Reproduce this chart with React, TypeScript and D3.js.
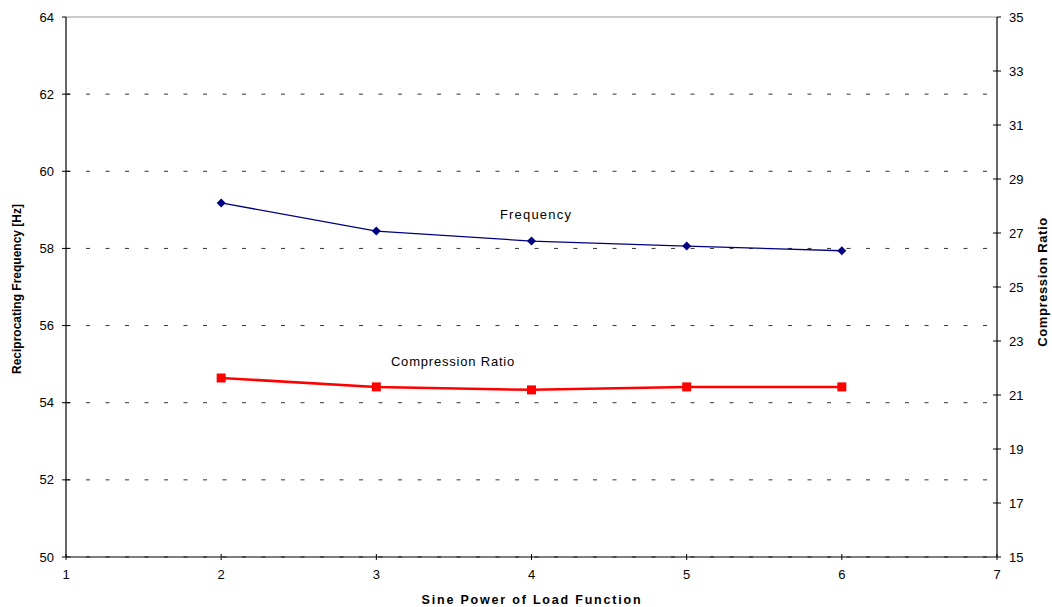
import React from "react";
import * as d3 from "d3";

const xValues = [2, 3, 4, 5, 6];
const frequency = [59.18, 58.45, 58.19, 58.06, 57.94];
const compressionRatio = [21.63, 21.3, 21.19, 21.3, 21.3];
const leftTicks = [50, 52, 54, 56, 58, 60, 62, 64];
const rightTicks = [15, 17, 19, 21, 23, 25, 27, 29, 31, 33, 35];
const xTicks = [1, 2, 3, 4, 5, 6, 7];

const W = 1052, H = 607;
const L = 66, R = 997, T = 17, B = 557;
const font = "'Liberation Sans', Arial, sans-serif";

export default function App() {
  const x = d3.scaleLinear().domain([1, 7]).range([L, R]);
  const yL = d3.scaleLinear().domain([50, 64]).range([B, T]);
  const yR = d3.scaleLinear().domain([15, 35]).range([B, T]);
  const freqLine = d3.line<number>().x((_, i) => x(xValues[i])).y((d) => yL(d))(frequency) || "";
  const crLine = d3.line<number>().x((_, i) => x(xValues[i])).y((d) => yR(d))(compressionRatio) || "";

  return (
    <svg width={W} height={H} style={{ position: "absolute", left: 0, top: 0, background: "#fff" }}>
      {leftTicks.map((t) => (
        <line key={"g" + t} x1={L} x2={R} y1={yL(t)} y2={yL(t)}
          stroke={t === 64 ? "#999" : "#333"} strokeWidth={1}
          strokeDasharray={t === 64 ? undefined : "4,15.5"} strokeDashoffset={-20} />
      ))}
      {/* axes */}
      <line x1={L} x2={L} y1={T} y2={B} stroke="#000" strokeWidth={1.2} />
      <line x1={R} x2={R} y1={T} y2={B} stroke="#000" strokeWidth={1.2} />
      <line x1={L} x2={R} y1={B} y2={B} stroke="#000" strokeWidth={1.2} />
      {leftTicks.map((t) => (
        <g key={"l" + t}>
          <line x1={L - 4} x2={t === 64 || t === 50 ? L : L + 4} y1={yL(t)} y2={yL(t)} stroke="#000" />
          <text x={L - 12} y={yL(t)} dy="0.35em" textAnchor="end" fontFamily={font} fontSize={13} fill="#000">{t}</text>
        </g>
      ))}
      {rightTicks.map((t) => (
        <g key={"r" + t}>
          <line x1={t === 35 || t === 15 ? R : R - 4} x2={R + 4} y1={yR(t)} y2={yR(t)} stroke="#000" />
          <text x={R + 12} y={yR(t)} dy="0.35em" textAnchor="start" fontFamily={font} fontSize={13} fill="#000">{t}</text>
        </g>
      ))}
      {xTicks.map((t) => (
        <g key={"x" + t}>
          <line x1={x(t)} x2={x(t)} y1={B - 3} y2={B + 3} stroke="#000" />
          <text x={x(t)} y={B + 22} textAnchor="middle" fontFamily={font} fontSize={13} fill="#000">{t}</text>
        </g>
      ))}
      {/* series */}
      <path d={freqLine} fill="none" stroke="#000080" strokeWidth={1.3} />
      {frequency.map((v, i) => {
        const cx = x(xValues[i]), cy = yL(v);
        return <path key={"f" + i} d={`M${cx},${cy - 4.5}L${cx + 4.5},${cy}L${cx},${cy + 4.5}L${cx - 4.5},${cy}Z`} fill="#000080" />;
      })}
      <path d={crLine} fill="none" stroke="#ff0000" strokeWidth={2.5} />
      {compressionRatio.map((v, i) => (
        <rect key={"c" + i} x={x(xValues[i]) - 4.5} y={yR(v) - 4.5} width={9} height={9} fill="#ff0000" />
      ))}
      <text x={536} y={219} textAnchor="middle" fontFamily={font} fontSize={13} letterSpacing={1.2} fill="#000">Frequency</text>
      <text x={453} y={366} textAnchor="middle" fontFamily={font} fontSize={13} letterSpacing={0.8} fill="#000">Compression Ratio</text>
      {/* axis titles */}
      <text x={532} y={604} textAnchor="middle" fontFamily={font} fontSize={12.5} fontWeight="bold" letterSpacing={1.8} fill="#000">Sine Power of Load Function</text>
      <text transform={`translate(21,${(T + B) / 2 + 2}) rotate(-90)`} textAnchor="middle" fontFamily={font} fontSize={12} fontWeight="bold" fill="#000">Reciprocating Frequency [Hz]</text>
      <text transform={`translate(1047,${(T + B) / 2 - 5}) rotate(-90)`} textAnchor="middle" fontFamily={font} fontSize={13} fontWeight="bold" letterSpacing={0.6} fill="#000">Compression Ratio</text>
    </svg>
  );
}
